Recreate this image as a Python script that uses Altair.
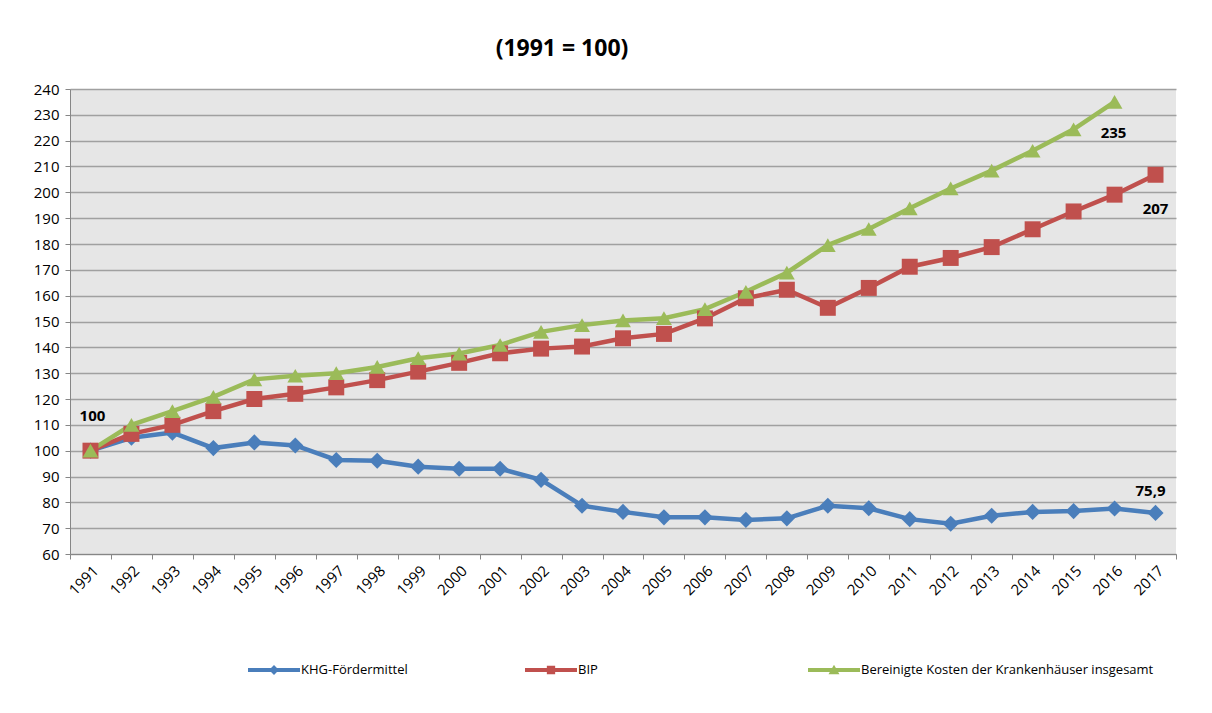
import altair as alt
import pandas as pd

years = list(range(1991, 2018))
series_names = ["KHG-Fördermittel", "BIP", "Bereinigte Kosten der Krankenhäuser insgesamt"]
series_colors = ["#4A7EBB", "#C0504D", "#9BBB59"]

khg = [100, 105, 107, 101, 103.2, 102, 96.4, 96.1, 93.8, 93, 93, 88.7, 78.7, 76.3,
       74.2, 74.2, 73.2, 73.8, 78.7, 77.7, 73.5, 71.7, 74.8, 76.3, 76.6, 77.6, 75.9]
bip = [100, 106.5, 110, 115.3, 120, 122, 124.5, 127.3, 130.6, 134, 137.7, 139.5, 140.3, 143.5,
       145.2, 151.2, 159, 162.3, 155.3, 163, 171.2, 174.6, 178.8, 185.7, 192.6, 199.1, 206.8]
kosten = [100, 110, 115.3, 120.8, 127.6, 129, 130, 132.4, 135.8, 137.6, 140.9, 146, 148.6, 150.4,
          151.3, 154.8, 161.5, 168.9, 179.6, 185.8, 193.8, 201.5, 208.4, 216.1, 224.4, 235, None]

label_series = ["KHG-Fördermittel", "Bereinigte Kosten der Krankenhäuser insgesamt", "BIP", "KHG-Fördermittel"]
label_years = [1991, 2016, 2017, 2017]
label_texts = ["100", "235", "207", "75,9"]

y_ticks = list(range(60, 250, 10))

rows = []
for name, vals in zip(series_names, [khg, bip, kosten]):
    for yr, v in zip(years, vals):
        if v is not None:
            rows.append({"series": name, "year": str(yr), "value": v})
df = pd.DataFrame(rows)

lookup = {name: dict(zip(years, vals)) for name, vals in zip(series_names, [khg, bip, kosten])}
lab_rows = []
for s, yr, t in zip(label_series, label_years, label_texts):
    lab_rows.append({"series": s, "year": str(yr), "value": lookup[s][yr], "text": t})
lab_df = pd.DataFrame(lab_rows)

FONT = "Open Sans"

x_enc = alt.X("year:O", title=None,
              scale=alt.Scale(type="band", paddingInner=0, paddingOuter=0),
              axis=alt.Axis(labelAngle=-45, tickBand="extent", grid=False, tickSize=5,
                            tickColor="#868686", domainColor="#868686", labelFont=FONT,
                            labelFontSize=15, labelColor="#000000", labelPadding=4))
y_enc = alt.Y("value:Q", title=None,
              scale=alt.Scale(domain=[60, 240], nice=False, zero=False),
              axis=alt.Axis(values=y_ticks, grid=True, gridColor="#A0A0A0", gridWidth=1.3,
                            tickSize=5, tickColor="#868686", domainColor="#868686",
                            labelFont=FONT, labelFontSize=15, labelColor="#000000", labelPadding=6))

color_scale = alt.Scale(domain=series_names, range=series_colors)

base = alt.Chart(df)

lines = base.mark_line(strokeWidth=4.5).encode(
    x=x_enc, y=y_enc,
    color=alt.Color("series:N", scale=color_scale, legend=None),
    detail="series:N",
)

points = base.mark_point(filled=True, opacity=1, strokeWidth=0).encode(
    x=x_enc, y=y_enc,
    color=alt.Color("series:N", scale=color_scale, legend=None),
    shape=alt.Shape("series:N", scale=alt.Scale(domain=series_names,
                                                range=["diamond", "square", "triangle-up"]), legend=None),
    size=alt.Size("series:N", scale=alt.Scale(domain=series_names, range=[260, 250, 350]), legend=None),
)

bar = "M-1,-0.08L1,-0.08L1,0.08L-1,0.08Z"
legend_shapes = [
    bar + "M0,-0.19L0.19,0L0,0.19L-0.19,0Z",
    bar + "M-0.16,-0.16L0.16,-0.16L0.16,0.16L-0.16,0.16Z",
    bar + "M0,-0.2L0.21,0.16L-0.21,0.16Z",
]
legend_x = [178, 455, 738]


def legend_layer(i):
    leg = alt.Legend(title=None, orient="none", legendX=legend_x[i], legendY=555,
                     symbolSize=2704, labelFont=FONT, labelFontSize=13, labelLimit=0,
                     labelColor="#000000", labelOffset=1, symbolStrokeWidth=0)
    name = series_names[i]
    return base.transform_filter("false").mark_point(filled=True, opacity=1, strokeWidth=0).encode(
        x=x_enc, y=y_enc,
        color=alt.Color("series:N", scale=alt.Scale(domain=[name], range=[series_colors[i]]), legend=leg),
        shape=alt.Shape("series:N", scale=alt.Scale(domain=[name], range=[legend_shapes[i]]), legend=leg),
    )


def label(text, dx, dy):
    return alt.Chart(lab_df).transform_filter(alt.datum.text == text).mark_text(
        dx=dx, dy=dy, font=FONT, fontSize=15, fontWeight="bold", color="#000000"
    ).encode(x=x_enc, y=y_enc, text="text:N")


labels = [label("100", 2, -35), label("235", -1, 31), label("207", 0, 34), label("75,9", -5, -22)]
legends = [legend_layer(i) for i in range(3)]

chart = alt.layer(lines, points, *legends, *labels).resolve_scale(
    color="independent", shape="independent"
).properties(
    width=1106, height=465,
    title=alt.TitleParams("(1991 = 100)", font=FONT, fontSize=23, fontWeight="bold",
                          color="#000000", anchor="middle", dx=-61, offset=21),
    autosize=alt.AutoSizeParams(type="none"),
    padding={"left": 62, "top": 81, "right": 28, "bottom": 151},
).configure_view(fill="#E6E6E6", strokeWidth=0)

chart.save("out.html", embed_options={"renderer": "svg", "actions": False})
